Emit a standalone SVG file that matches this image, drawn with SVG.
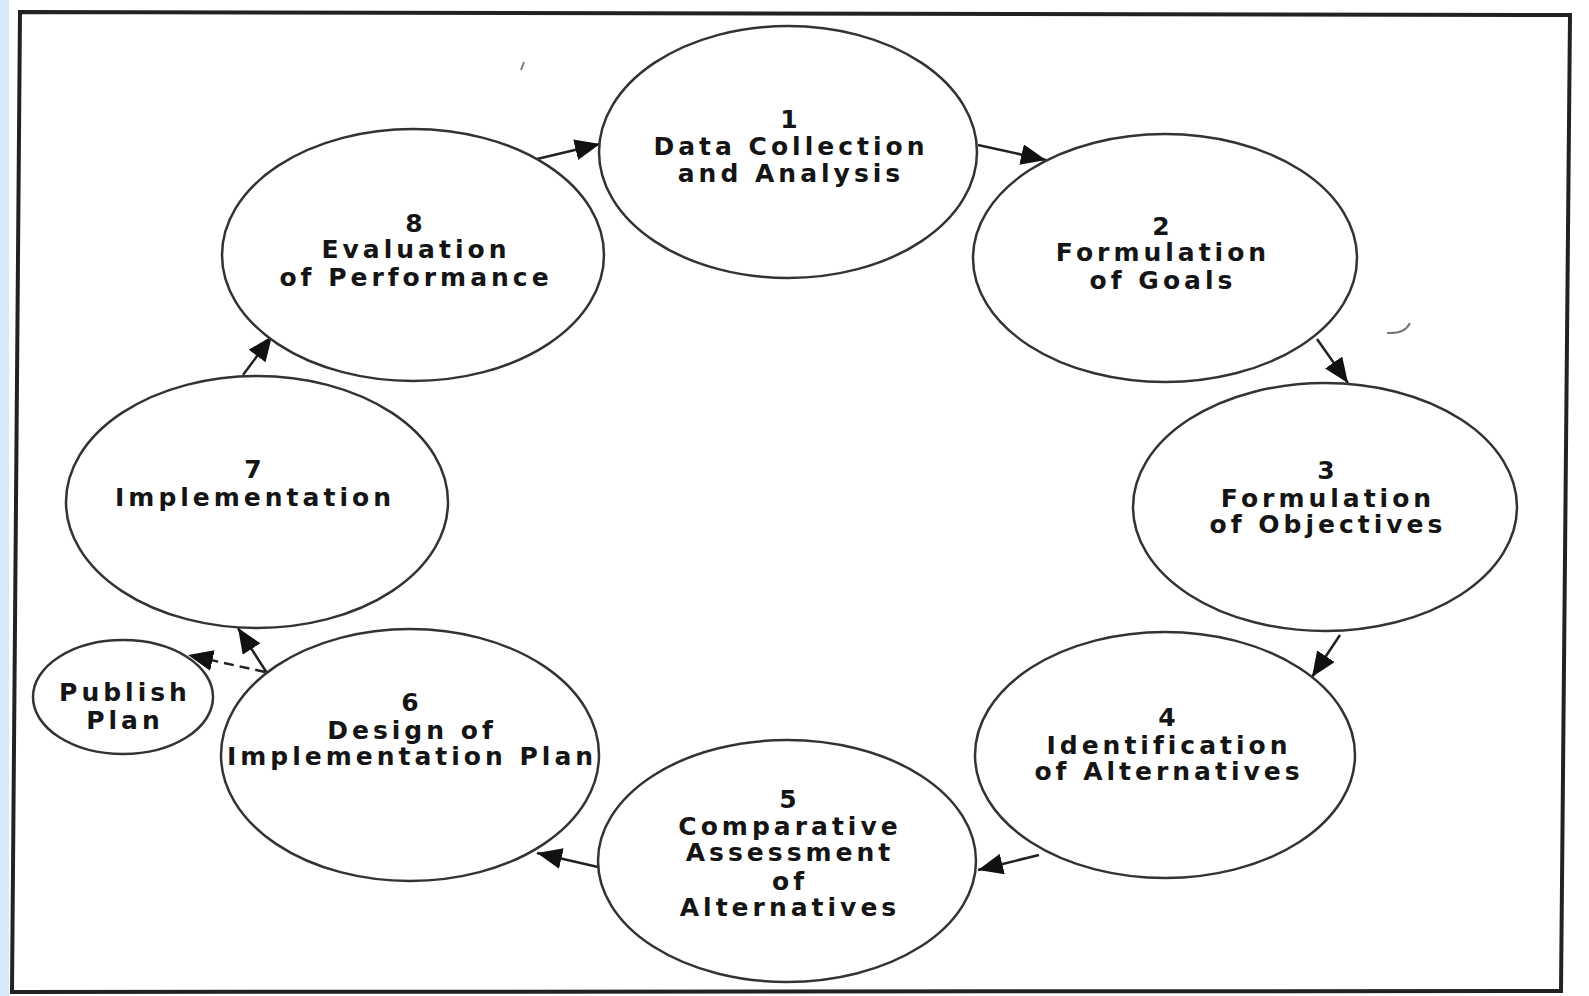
<svg xmlns="http://www.w3.org/2000/svg" width="1589" height="996" viewBox="0 0 1589 996">
<style>
.n{fill:#fff;stroke:#333;stroke-width:2.5}
.t{font-family:"DejaVu Sans","Liberation Sans",sans-serif;font-weight:bold;font-size:25px;letter-spacing:4px;fill:#151515;text-anchor:middle}
.c{stroke:#222;stroke-width:2.5;fill:none}
.d{stroke:#222;stroke-width:2.5;fill:none;stroke-dasharray:10 6}
.m{stroke:#777;stroke-width:2;fill:none}
</style>
<defs>
<marker id="a" viewBox="0 0 25 21" refX="25" refY="10.5" markerWidth="25" markerHeight="21" markerUnits="userSpaceOnUse" orient="auto">
<path d="M0,0 L25,10.5 L0,21 z" fill="#111"/>
</marker>
</defs>
<rect x="0" y="0" width="1589" height="996" fill="#fff"/>
<rect x="0" y="0" width="9" height="996" fill="#d6e9fb"/>
<path d="M20,12 L1570,15 L1561,991 L12,992 Z" fill="#fff" stroke="#222" stroke-width="4"/>
<g id="connectors">
<line class="c" x1="537" y1="159" x2="600" y2="144" marker-end="url(#a)"/>
<line class="c" x1="978" y1="145" x2="1046" y2="160" marker-end="url(#a)"/>
<line class="c" x1="1317" y1="339" x2="1348" y2="383" marker-end="url(#a)"/>
<line class="c" x1="1340" y1="635" x2="1312" y2="677" marker-end="url(#a)"/>
<line class="c" x1="1039" y1="855" x2="978" y2="870" marker-end="url(#a)"/>
<line class="c" x1="598" y1="867" x2="537" y2="853" marker-end="url(#a)"/>
<line class="c" x1="267" y1="673" x2="238" y2="628" marker-end="url(#a)"/>
<line class="d" x1="265" y1="672" x2="188" y2="655" marker-end="url(#a)"/>
<line class="c" x1="243" y1="375" x2="272" y2="336" marker-end="url(#a)"/>
</g>
<g id="n1"><ellipse class="n" cx="788" cy="152" rx="189" ry="126"/>
<text class="t" x="791" y="128">1</text><text class="t" x="791" y="155">Data Collection</text><text class="t" x="791" y="182">and Analysis</text></g>
<g id="n2"><ellipse class="n" cx="1165" cy="258" rx="192" ry="124"/>
<text class="t" x="1163" y="235">2</text><text class="t" x="1163" y="261">Formulation</text><text class="t" x="1163" y="289">of Goals</text></g>
<g id="n3"><ellipse class="n" cx="1325" cy="507" rx="192" ry="124"/>
<text class="t" x="1328" y="479">3</text><text class="t" x="1328" y="507">Formulation</text><text class="t" x="1328" y="533">of Objectives</text></g>
<g id="n4"><ellipse class="n" cx="1165" cy="755" rx="190" ry="123"/>
<text class="t" x="1169" y="726">4</text><text class="t" x="1169" y="754">Identification</text><text class="t" x="1169" y="780">of Alternatives</text></g>
<g id="n5"><ellipse class="n" cx="787" cy="861" rx="189" ry="121"/>
<text class="t" x="790" y="808">5</text><text class="t" x="790" y="835">Comparative</text><text class="t" x="790" y="861">Assessment</text><text class="t" x="790" y="890">of</text><text class="t" x="790" y="916">Alternatives</text></g>
<g id="n6"><ellipse class="n" cx="410" cy="755" rx="189" ry="126"/>
<text class="t" x="412" y="711">6</text><text class="t" x="412" y="739">Design of</text><text class="t" x="412" y="765">Implementation Plan</text></g>
<g id="n7"><ellipse class="n" cx="257" cy="502" rx="191" ry="126"/>
<text class="t" x="255" y="478">7</text><text class="t" x="255" y="506">Implementation</text></g>
<g id="n8"><ellipse class="n" cx="413" cy="255" rx="191" ry="126"/>
<text class="t" x="416" y="232">8</text><text class="t" x="416" y="258">Evaluation</text><text class="t" x="416" y="286">of Performance</text></g>
<g id="publish"><ellipse class="n" cx="123" cy="697" rx="90" ry="57"/>
<text class="t" x="125" y="701">Publish</text><text class="t" x="125" y="729">Plan</text></g>
<path class="m" d="M1387,333 Q1405,334 1410,323"/>
<path class="m" d="M521,70 L524,62"/>
</svg>
